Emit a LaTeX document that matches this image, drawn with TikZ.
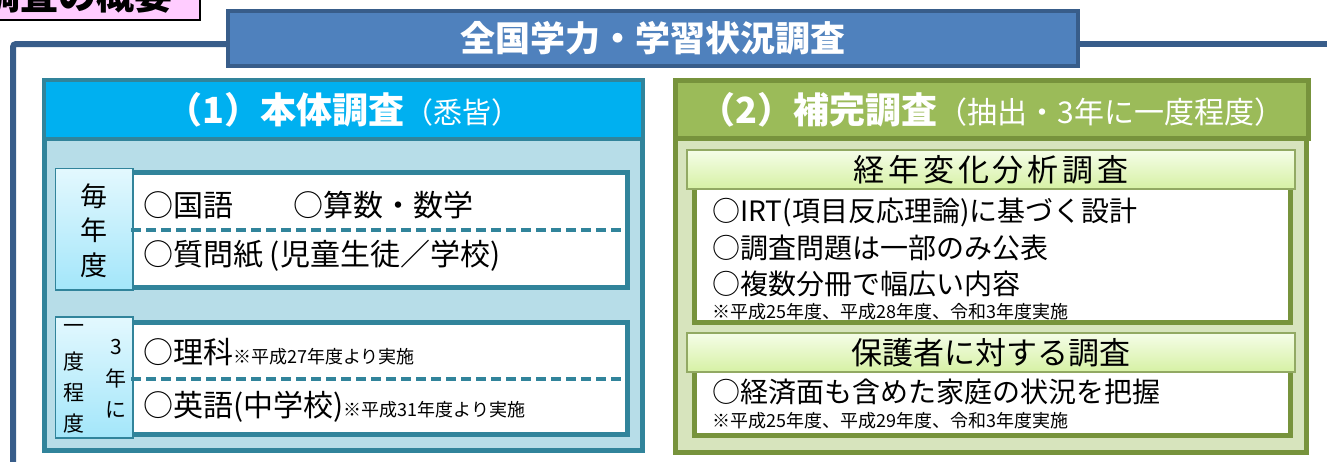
\documentclass[tikz,border=0pt]{standalone}
\usepackage{fontspec}
\setmainfont{Noto Sans CJK JP}
\usetikzlibrary{positioning}
\usetikzlibrary{calc}
\definecolor{frameblue}{HTML}{385D8A}
\definecolor{titleblue}{HTML}{4F81BD}
\definecolor{cyanhead}{HTML}{00B0F0}
\definecolor{tealline}{HTML}{31849B}
\definecolor{lightblue}{HTML}{B7DDE8}
\definecolor{greenhead}{HTML}{9BBB59}
\definecolor{greenline}{HTML}{77933C}
\definecolor{lightgreen}{HTML}{D7E4BD}
\definecolor{pinkbox}{HTML}{FFCCFF}
\definecolor{labeltop}{HTML}{E3F8FE}
\definecolor{labelbot}{HTML}{A3E6FA}
\definecolor{subtop}{HTML}{F5FDE8}
\definecolor{subbot}{HTML}{D6F1A4}
\newcommand{\jfs}[1]{\fontsize{#1}{#1}\selectfont}
\tikzstyle{box}=[rectangle,inner sep=0pt,outer sep=0pt]
\tikzstyle{bluepanel}=[box,draw=tealline,line width=5pt,fill=lightblue]
\tikzstyle{greenpanel}=[box,draw=greenline,line width=5pt,fill=lightgreen]
\tikzstyle{bluehead}=[box,draw=tealline,line width=4pt,fill=cyanhead,text=white]
\tikzstyle{greenhead}=[box,draw=greenline,line width=5pt,fill=greenhead,text=white]
\tikzstyle{bluerow}=[box,draw=tealline,line width=5pt,fill=white]
\tikzstyle{greenrow}=[box,draw=greenline,line width=5pt,fill=white]
\tikzstyle{labelcell}=[box,draw=tealline,line width=1.2pt,top color=labeltop,bottom color=labelbot]
\tikzstyle{subhead}=[box,draw=greenline!80,line width=1.5pt,top color=subtop,bottom color=subbot]
\tikzstyle{dashline}=[draw=tealline,line width=4pt,dash pattern=on 10pt off 5pt]
\tikzstyle{item}=[anchor=west,inner sep=0pt,font=\jfs{30}]
\tikzstyle{ritem}=[anchor=west,inner sep=0pt,font=\jfs{28}]
\tikzstyle{note}=[anchor=west,inner sep=0pt,font=\jfs{18}]
\tikzstyle{labelchar}=[inner sep=0pt]

\begin{document}
\begin{tikzpicture}[x=1pt,y=-1pt]
    \useasboundingbox (0,0) rectangle (1327,461);

    % top left tab and frame
    \node[box,draw=black,line width=2pt,fill=pinkbox,minimum width=205pt,minimum height=40pt] (tab) at (97.5,-0.5) {};
    \node[anchor=base east,inner sep=0pt,font=\jfs{38}\bfseries] (tabtext) at (173,9) {調査の概要};
    \coordinate (fL) at (13,470);
    \coordinate (fT) at (13,44);
    \coordinate (fR) at (1335,44);
    \node[box,minimum width=850pt,minimum height=55pt] (title) at (653,38.5) {};
    \draw[frameblue,line width=6pt,rounded corners=3pt] (fL) -- (fT) -- (fT -| title.west);
    \draw[frameblue,line width=6pt] (fT -| title.east) -- (fR);
    \node[box,draw=frameblue,line width=4pt,fill=titleblue,text=white,minimum width=850pt,minimum height=55pt,font=\jfs{35}\bfseries] at (653,38.5) {全国学力・学習状況調査};

    % (1) main survey
    \node[bluepanel,minimum width=598pt,minimum height=340.5pt] (bodyA) at (343.5,280.25) {};
    \node[bluehead,minimum width=599pt,minimum height=59pt] (headA) at (343.5,109.5) {{\jfs{36}\bfseries （1）本体調査}{\jfs{29}（悉皆）}};

    \node[bluerow,minimum width=496.5pt,minimum height=115pt] (rowA) at (379.25,230) {};
    \node[labelcell,minimum width=77.5pt,minimum height=121.5pt] (cellA) at (94.25,229.25) {};
    \draw[dashline] (rowA.west) -- (rowA.east);
    \foreach \y/\name/\ch in {196/a1/毎, 230/a2/年, 265/a3/度}
        \node[labelchar,font=\jfs{27}] (\name) at (94,\y) {\ch};
    \node[item] (kokugo) at (143,205) {○国語　　○算数・数学};
    \node[item] (shitsumon) at (143,256) {○質問紙 (児童生徒／学校)};

    \node[bluerow,minimum width=496.5pt,minimum height=112pt] (rowB) at (379.25,378.5) {};
    \node[labelcell,minimum width=77.5pt,minimum height=121pt] (cellB) at (94.25,377.5) {};
    \draw[dashline] (rowB.west) -- (rowB.east);
    \foreach \pos/\name/\ch in {{(74,329)/b1/一}, {(74,362)/b2/度}, {(74,393)/b3/程}, {(74,424)/b4/度}, {(116,347)/b5/3}, {(116,378)/b6/年}, {(116,410)/b7/に}}
        \node[labelchar,font=\jfs{21}] (\name) at \pos {\ch};
    \node[item] (rika) at (143,352) {○理科{\jfs{18}※平成27年度より実施}};
    \node[item] (eigo) at (143,407) {○英語(中学校){\jfs{18}※平成31年度より実施}};

    % (2) supplementary survey
    \node[greenpanel,minimum width=631pt,minimum height=342.5pt] (bodyB) at (991,281.25) {};
    \node[greenhead,minimum width=633pt,minimum height=58pt] (headB) at (992,109.5) {{\jfs{36}\bfseries （2）補完調査}{\jfs{30}（抽出・3年に一度程度）}};

    \node[greenrow,minimum width=596pt,minimum height=136.5pt] (rowC) at (992.5,254.25) {};
    \node[subhead,minimum width=608pt,minimum height=39pt,font=\jfs{31}] (subC) at (991,169.5) {\addfontfeature{LetterSpace=12}経年変化分析調査};
    \node[ritem] (irt) at (712,212) {○IRT(項目反応理論)に基づく設計};
    \node[ritem] (kohyo) at (712,248) {○調査問題は一部のみ公表};
    \node[ritem] (bunsatsu) at (712,284) {○複数分冊で幅広い内容};
    \node[note] (noteC) at (712,312) {※平成25年度、平成28年度、令和3年度実施};

    \node[greenrow,minimum width=596pt,minimum height=65.5pt] (rowD) at (992.5,402.75) {};
    \node[subhead,minimum width=608pt,minimum height=39pt,font=\jfs{31}] (subD) at (991,352.5) {保護者に対する調査};
    \node[ritem] (katei) at (712,392) {○経済面も含めた家庭の状況を把握};
    \node[note] (noteD) at (712,421) {※平成25年度、平成29年度、令和3年度実施};
\end{tikzpicture}
\end{document}
